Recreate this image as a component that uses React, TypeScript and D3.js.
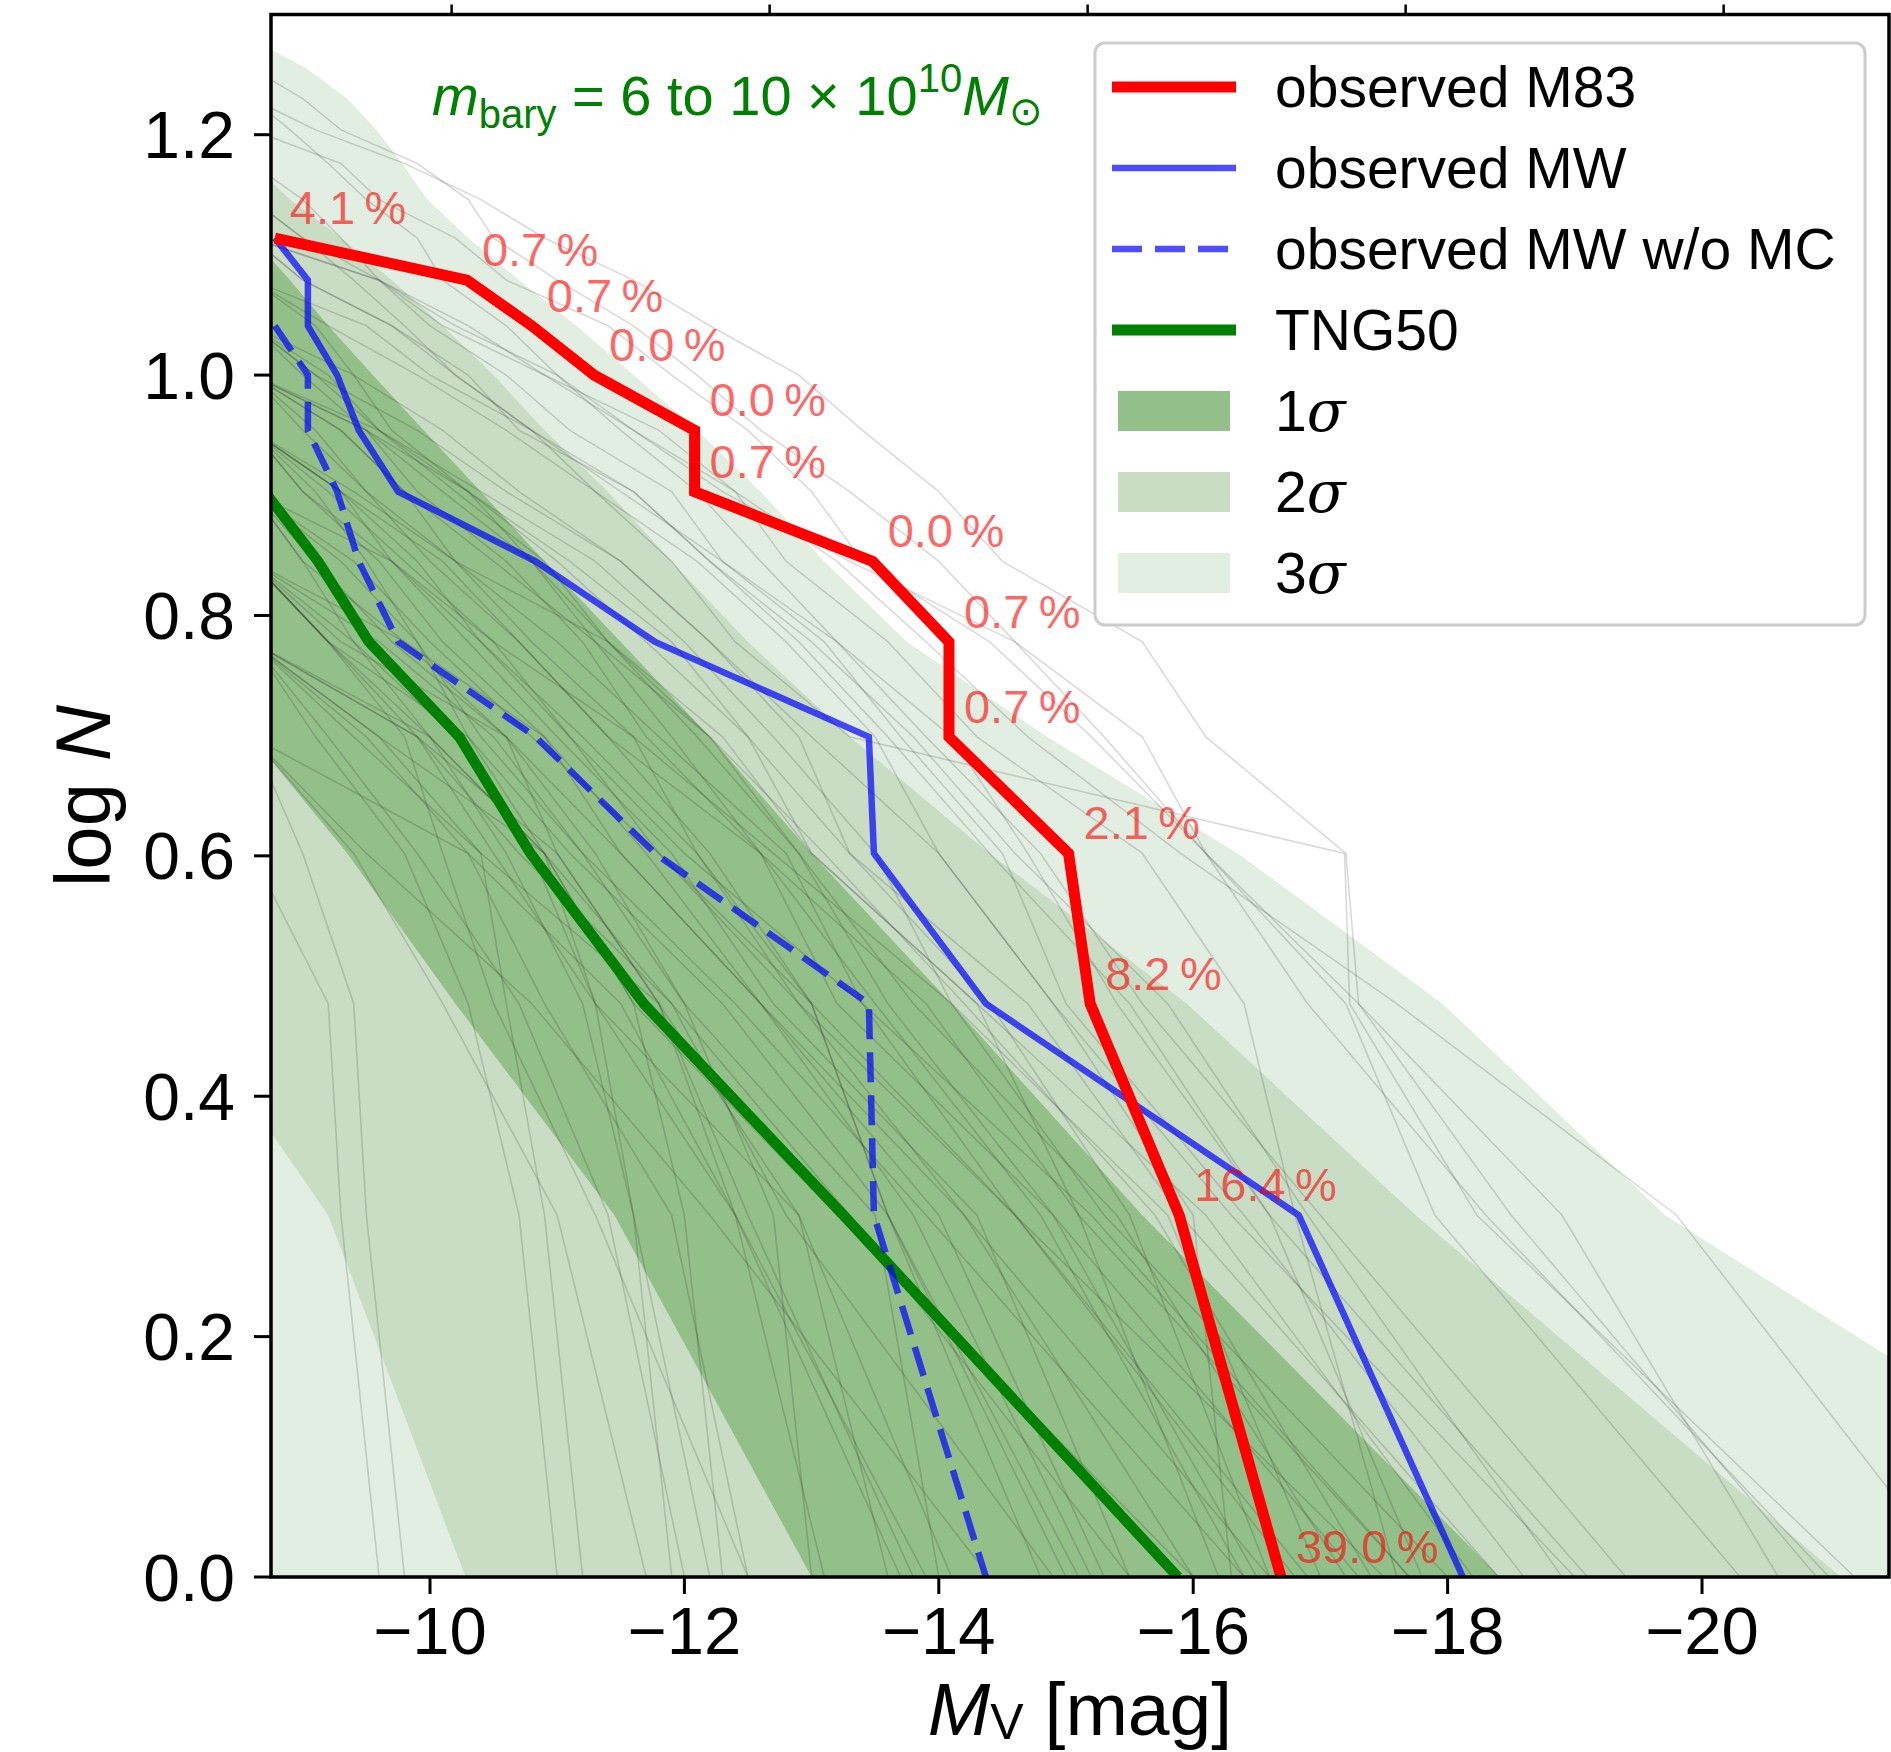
import React from "react";
import * as d3 from "d3";

// ---------- data ----------
// log10 N for N = 1..20 (cumulative satellite counts)
const LOG_N = [0, 0.301, 0.477, 0.602, 0.699, 0.778, 0.845, 0.903, 0.954, 1.0, 1.041, 1.079, 1.114, 1.146, 1.176, 1.204, 1.23, 1.255, 1.279, 1.301];

const xTicks = [-10, -12, -14, -16, -18, -20];
const yTicks = [0, 0.2, 0.4, 0.6, 0.8, 1.0, 1.2];
const topTickLogL = [6, 7, 8, 9, 10];
const SUN_MV = 4.83;

// magnitudes ordered from N = n (faintest) down to N = 1 (brightest)
const m83Mag = [-8.78, -10.29, -10.8, -11.29, -12.08, -12.08, -13.48, -14.08, -14.08, -15.02, -15.19, -15.89, -16.69];
const m83Prob = ["4.1", "0.7", "0.7", "0.0", "0.0", "0.7", "0.0", "0.7", "0.7", "2.1", "8.2", "16.4", "39.0"];
const mwMag = [-8.78, -9.04, -9.04, -9.27, -9.44, -9.75, -10.83, -11.77, -13.45, -13.49, -14.37, -16.83, -18.12];
const mwNoMcMag = [-8.78, -9.04, -9.04, -9.27, -9.44, -9.75, -10.83, -11.77, -13.45, -13.49, -14.37];
const tngMag = [-8.7, -9.12, -9.52, -10.23, -10.79, -11.68, -13.25, -15.88];

// band edges: magnitude at LOG_N[i], i = 0..
const sigma3Bright = [-24.2, -19.71, -17.96, -16.35, -14.85, -13.75, -13.1, -12.6, -12.1, -11.6, -11.15, -10.7, -10.3, -9.98, -9.78, -9.58, -9.35, -9.03, -8.6];
const sigma3Faint = [-8.5];
const sigma2Bright = [-21.09, -17.75, -15.95, -14.4, -13.3, -12.5, -11.9, -11.4, -10.9, -10.5, -10.1, -9.7, -9.3, -8.9, -8.6];
const sigma2Faint = [-10.28, -9.2, -8.05];
const sigma1Bright = [-18.41, -15.6, -14.1, -13.0, -12.2, -11.5, -10.9, -10.4, -9.95, -9.55, -9.2, -8.9, -8.6];
const sigma1Faint = [-13.0, -11.45, -10.2, -9.35, -8.6];

// individual TNG50 systems (thin grey lines)
const tngSystems: number[][] = [
  [-8.6, -9.0, -9.6, -10.1, -10.9, -11.5, -12.6, -13.8, -15.2],
  [-8.6, -9.3, -9.9, -10.4, -11.2, -12.4, -13.9, -16.4],
  [-8.6, -9.1, -9.4, -9.7, -10.3, -10.8, -11.4, -12.1, -12.9, -13.6, -14.9, -17.3],
  [-8.6, -9.2, -9.9, -10.5, -11.3, -12.9, -14.1],
  [-8.6, -9.5, -10.3, -10.9, -11.9, -12.5],
  [-8.6, -9.3, -9.8, -10.2, -11.0, -11.8, -12.8, -13.4, -14.6, -16.9],
  [-8.6, -9.4, -10.1, -11.0, -11.7],
  [-8.6, -9.0, -9.3, -9.6, -10.0, -10.6, -11.1, -11.9, -12.3, -13.2, -13.9, -14.8, -15.6, -17.0, -19.4],
  [-8.6, -9.2, -9.3, -9.6],
  [-8.6, -9.0, -9.4, -9.5, -9.8],
  [-8.6, -9.6, -10.4, -10.6, -10.9, -11.2],
  [-8.6, -9.2, -9.6, -10.4, -11.3, -12.0, -12.7, -13.5, -14.1, -15.3, -18.0],
  [-8.6, -9.0, -9.7, -10.3, -10.7, -11.6, -12.2, -13.0, -13.8, -14.6, -15.8, -16.9, -18.9],
  [-8.6, -9.0, -9.3, -9.9, -10.3, -10.5, -11.0, -11.6, -12.1, -12.6, -13.3, -14.0, -14.6, -15.3, -16.1, -17.2, -17.9, -20.3],
  [-8.6, -9.3, -9.6, -10.2, -10.6, -11.4, -11.9, -12.5, -13.0, -13.4, -14.4, -15.2, -16.1, -16.9, -18.3, -21.0],
  [-8.6, -9.4, -10.2, -10.8, -11.6, -12.1, -12.9, -14.2, -16.0],
  [-8.6, -9.1, -9.7, -10.6, -11.0, -11.8, -12.4, -13.1],
  [-8.6, -9.2, -10.0, -10.9, -11.9, -13.3, -15.5],
  [-8.6, -9.0, -9.5, -10.0, -10.7, -11.4, -12.2, -13.0, -13.6, -15.0],
  [-8.6, -9.2, -9.9, -10.7, -11.4, -12.0],
  [-8.6, -9.5, -10.0, -10.8, -11.5, -12.3, -13.1, -13.7, -14.5, -15.0, -16.4, -18.6],
  [-8.6, -9.3, -9.9, -10.4, -11.1, -11.8, -13.0, -14.6, -17.5],
  [-8.6, -9.0, -9.4, -9.8, -10.2, -10.8, -11.6, -12.2, -12.9, -13.6, -14.4, -15.5, -16.6, -17.8],
  [-8.6, -9.0, -9.4, -10.0, -10.6, -11.2, -11.6, -12.2],
  [-8.6, -9.4, -10.1, -10.7, -11.5, -12.2, -13.0, -14.0, -14.9, -16.3, -19.0],
  [-8.6, -9.6, -10.5, -11.2, -12.0, -12.7, -13.0],
  [-8.6, -9.5, -10.3, -11.1, -11.9, -12.5, -13.3, -14.4, -15.5, -16.6],
  [-8.6, -9.1, -9.8, -10.4, -10.9, -11.6, -12.2, -12.9, -13.4, -14.0, -14.5, -15.6, -16.1, -17.2, -17.3, -18.9, -20.6],
  [-8.6, -9.6, -10.2, -11.0, -11.6, -12.4, -12.8, -13.6, -14.3, -15.6, -16.4, -16.8, -17.6],
  [-8.6, -9.1, -9.5, -9.9, -10.3, -10.9, -11.3, -12.4, -13.7],
  [-8.6, -9.6, -10.3, -10.9, -11.6, -12.3, -13.3, -14.6, -15.6, -16.1, -17.3, -18.5, -20.9],
  [-8.6, -9.0, -9.7, -10.2, -10.8, -11.3, -11.9, -12.4, -13.3, -17.19, -17.23, -18.23, -21.2],
  [-8.6, -8.9, -9.2, -9.5, -9.9, -10.1, -10.6, -11.0, -11.5, -12.1, -12.6, -13.2, -14.1, -14.7, -15.4, -16.6, -19.1],
  [-8.6, -9.3, -9.8, -10.5, -11.3, -11.9, -12.6, -13.9, -15.1, -16.2],
  [-8.6, -9.1, -9.6, -10.3, -11.0, -11.7, -12.5, -13.0, -14.3, -15.1, -17.7],
  [-8.6, -9.2, -9.8, -10.1, -10.5, -11.3, -12.5],
  [-8.6, -9.4, -10.0, -10.8, -11.8, -12.9, -14.6, -16.8],
  [-8.6, -9.0, -9.7, -10.5, -11.1, -12.0, -13.4, -15.2, -17.7],
  [-8.6, -9.8, -10.6, -11.5, -12.6, -14.0, -15.3],
  [-8.6, -9.1, -9.5, -10.2, -11.4, -12.3, -13.0, -14.3, -16.1, -18.2],
  [-8.6, -9.9, -11.0, -11.8, -12.5, -13.8],
  [-8.6, -9.3, -10.6, -11.3, -12.0, -13.5, -14.0],
  [-8.6, -9.2, -9.8, -10.5, -11.6, -12.7, -14.1, -15.8, -17.0],
  [-8.6, -10.0, -10.9, -11.6, -13.2, -16.0],
  [-8.6, -9.0, -9.5, -10.1, -10.8, -11.3, -12.2, -13.1, -14.2, -15.7, -17.4],
  [-8.6, -9.7, -10.4, -11.2, -12.1, -13.0, -13.6, -14.8],
  [-8.6, -9.5, -10.8, -12.2, -14.4],
  [-8.6, -9.3, -10.1, -10.7, -11.4, -12.6, -13.2, -14.9, -16.5],
  [-8.6, -9.6, -10.2, -10.9, -11.4, -12.2, -12.9, -13.8, -15.4, -17.2],
  [-8.6, -10.3, -11.5, -12.4, -13.9],
  [-8.6, -9.1, -9.9, -10.6, -11.5, -12.2, -12.9, -13.3, -14.7, -15.9, -18.4],
  [-8.6, -9.4, -10.4, -11.8, -12.9, -13.6],
  [-8.6, -9.2, -10.3, -11.1, -12.3, -13.6, -15.1],
  [-8.6, -9.5, -9.9, -10.6, -11.2, -11.7, -12.6, -13.5, -14.8, -16.4],
  [-8.6, -9.0, -9.8, -10.9, -11.7, -12.6, -14.2, -16.6],
  [-8.6, -9.9, -10.7, -11.9, -12.8, -14.9],
  [-8.6, -9.3, -9.7, -10.3, -11.0, -11.9, -12.7, -14.3, -15.5],
  [-8.6, -9.6, -10.9, -11.6, -12.0, -12.3],
  [-8.6, -9.4, -10.2, -10.8, -11.3, -11.6, -11.9],
  [-8.6, -9.1, -9.8, -10.3, -10.7, -11.0],
  [-8.6, -9.2, -9.9, -10.6, -11.3, -12.1, -12.8, -13.5, -14.0, -14.9, -16.0, -16.3],
  [-8.6, -9.0, -9.6, -10.1, -10.9, -11.8, -12.4, -13.2, -13.9, -14.7, -15.9, -17.6, -19.8, -22.0],
];

const legendItems = [
  { label: "observed M83", kind: "line", color: "#ff0000", width: 11, dash: "" },
  { label: "observed MW", kind: "line", color: "#4d4dff", width: 6.5, dash: "" },
  { label: "observed MW w/o MC", kind: "line", color: "#4d4dff", width: 6.5, dash: "30,13" },
  { label: "TNG50", kind: "line", color: "#008000", width: 11, dash: "" },
  { label: "1", kind: "patch", color: "#93bf88" },
  { label: "2", kind: "patch", color: "#c9ddc5" },
  { label: "3", kind: "patch", color: "#e2eee1" },
];

// ---------- layout ----------
const W = 1891;
const H = 1752;
const PL = 271;
const PR = 1889;
const PT = 14.5;
const PB = 1577;
const FONT = "'Liberation Sans', Arial, Helvetica, sans-serif";

export default function App() {
  const x = d3.scaleLinear().domain([-8.75, -21.47]).range([PL, PR]);
  const y = d3.scaleLinear().domain([0, 1.3]).range([PB, PT]);
  const line = d3.line<[number, number]>().x((d) => x(d[0])).y((d) => y(d[1]));

  const toPts = (mags: number[]): [number, number][] =>
    mags.map((m, j) => [m, LOG_N[mags.length - j - 1]] as [number, number]);

  const bandPath = (bright: number[], faint: number[]) => {
    const up = bright.map((m, i) => [m, LOG_N[i]] as [number, number]);
    const down = faint.map((m, i) => [m, LOG_N[i]] as [number, number]).reverse();
    return (line([...up, ...down]) || "") + "Z";
  };

  const m83Pts = toPts(m83Mag);

  return (
    <svg
      width={W}
      height={H}
      viewBox={`0 0 ${W} ${H}`}
      style={{ position: "absolute", left: 0, top: 0, background: "#fff" }}
      fontFamily={FONT}
    >
      <defs>
        <clipPath id="plotClip">
          <rect x={PL} y={PT} width={PR - PL} height={PB - PT} />
        </clipPath>
      </defs>
      <rect x={0} y={0} width={W} height={H} fill="#fff" />

      <g clipPath="url(#plotClip)">
        <path d={bandPath(sigma3Bright, sigma3Faint)} fill="#e2eee1" />
        <path d={bandPath(sigma2Bright, sigma2Faint)} fill="#c9ddc5" />
        <path d={bandPath(sigma1Bright, sigma1Faint)} fill="#93bf88" />

        {tngSystems.map((s, i) => (
          <path key={i} d={line(toPts(s)) || ""} fill="none" stroke="#000" strokeOpacity={0.15} strokeWidth={1.6} />
        ))}

        <path d={line(toPts(tngMag)) || ""} fill="none" stroke="#008000" strokeWidth={10.5} strokeLinejoin="round" />
        <path d={line(toPts(mwNoMcMag)) || ""} fill="none" stroke="#0000ff" strokeOpacity={0.7} strokeWidth={6.5} strokeDasharray="30,13" />
        <path d={line(toPts(mwMag)) || ""} fill="none" stroke="#0000ff" strokeOpacity={0.7} strokeWidth={6.5} />
        <path d={line(m83Pts) || ""} fill="none" stroke="#ff0000" strokeWidth={11} />

        {m83Pts.map((p, i) => (
          <text key={i} x={x(p[0]) + 15} y={y(p[1]) - 14} fontSize={47} fill="#ff0000" fillOpacity={0.6}>
            {m83Prob[i] + "\u2009%"}
          </text>
        ))}
      </g>

      {/* title */}
      <text x={432} y={115} fontSize={56} fill="#008000">
        <tspan fontStyle="italic">m</tspan>
        <tspan fontSize={40} dy={13}>bary</tspan>
        <tspan dy={-13}>{" = 6 to 10 \u00d7 10"}</tspan>
        <tspan fontSize={40} dy={-23}>10</tspan>
        <tspan fontStyle="italic" dy={23}>M</tspan>
        <tspan fontSize={40} dy={10}>{"\u2299"}</tspan>
      </text>

      {/* legend */}
      <g>
        <rect x={1095} y={43} width={770} height={582} rx={10} fill="#fff" fillOpacity={0.8} stroke="#cccccc" strokeWidth={3} />
        {legendItems.map((it, i) => {
          const cy = 87 + i * 81;
          return (
            <g key={i}>
              {it.kind === "line" ? (
                <line x1={1112} x2={1236} y1={cy} y2={cy} stroke={it.color} strokeWidth={it.width} strokeDasharray={it.dash || undefined} />
              ) : (
                <rect x={1118} y={cy - 20} width={112} height={40} fill={it.color} />
              )}
              <text x={1275} y={cy + 20} fontSize={57} fill="#000">
                {it.kind === "line" ? (
                  it.label
                ) : (
                  <>
                    <tspan>{it.label}</tspan>
                    <tspan fontStyle="italic" fontFamily="'DejaVu Serif', serif">{"\u03c3"}</tspan>
                  </>
                )}
              </text>
            </g>
          );
        })}
      </g>

      {/* frame */}
      <rect x={PL} y={PT} width={PR - PL} height={PB - PT} fill="none" stroke="#000" strokeWidth={3.5} />

      {/* top ticks (log L_V) */}
      {topTickLogL.map((L) => {
        const xx = x(SUN_MV - 2.5 * L);
        return <line key={L} x1={xx} x2={xx} y1={PT} y2={PT - 10} stroke="#000" strokeWidth={2.5} />;
      })}

      {/* x axis */}
      {xTicks.map((t) => (
        <g key={t}>
          <line x1={x(t)} x2={x(t)} y1={PB} y2={PB + 17} stroke="#000" strokeWidth={3} />
          <text x={x(t)} y={1654} fontSize={67} textAnchor="middle" fill="#000">
            {"\u2212" + Math.abs(t)}
          </text>
        </g>
      ))}

      {/* y axis */}
      {yTicks.map((t) => (
        <g key={t}>
          <line x1={PL - 17} x2={PL} y1={y(t)} y2={y(t)} stroke="#000" strokeWidth={3} />
          <text x={235} y={y(t) + 23.5} fontSize={66} textAnchor="end" fill="#000">
            {t.toFixed(1)}
          </text>
        </g>
      ))}

      {/* axis labels */}
      <text x={1080} y={1735} fontSize={75} textAnchor="middle" fill="#000">
        <tspan fontStyle="italic">M</tspan>
        <tspan fontSize={50} dy={4}>V</tspan>
        <tspan dy={-4}>{" [mag]"}</tspan>
      </text>
      <text transform="translate(110,796) rotate(-90)" fontSize={78} textAnchor="middle" fill="#000">
        <tspan>{"log "}</tspan>
        <tspan fontStyle="italic">N</tspan>
      </text>
    </svg>
  );
}
